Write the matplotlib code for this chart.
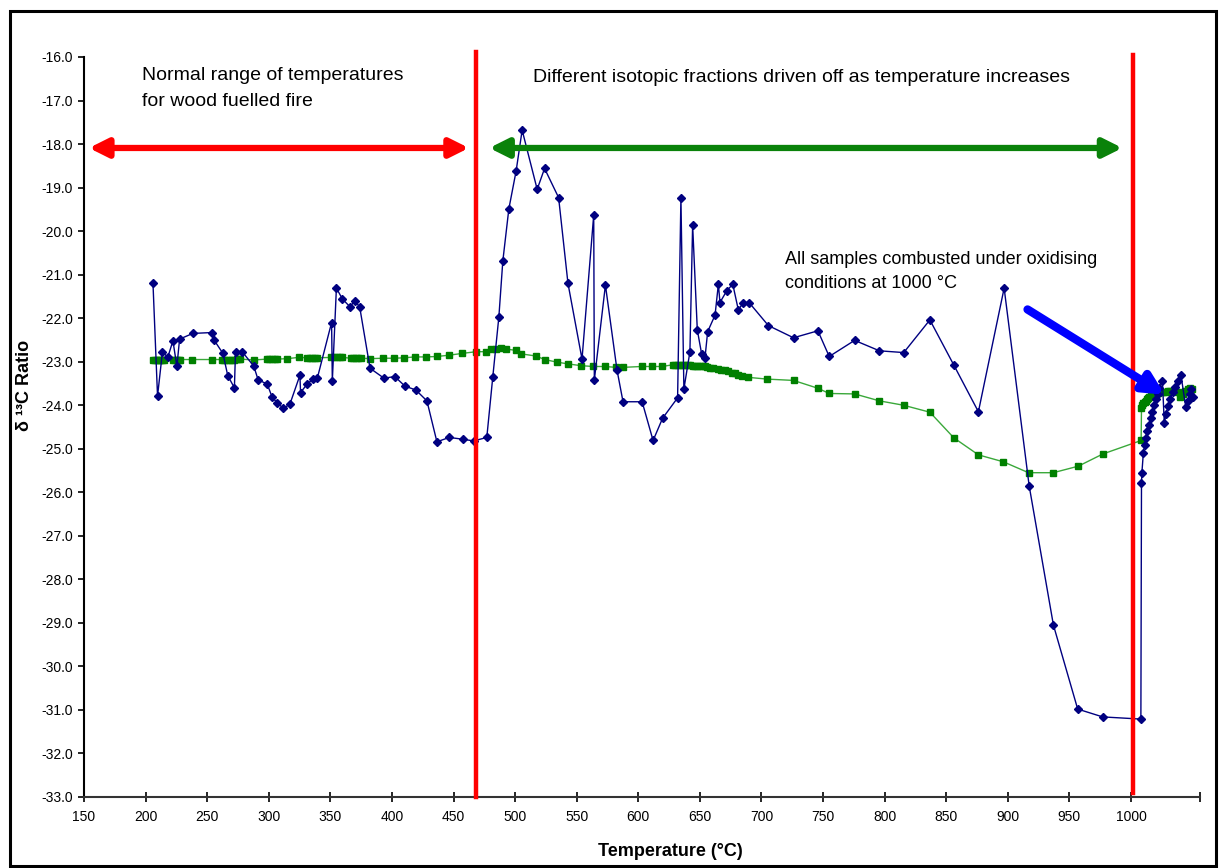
import matplotlib
matplotlib.use("Agg")
import matplotlib.pyplot as plt
from matplotlib.patches import Rectangle, FancyArrowPatch

plt.rcParams['font.family'] = ['Liberation Sans', 'DejaVu Sans']

# ---- data ----
blue_T = [206, 209.7, 213.7, 218, 222.2, 225.4, 227.6, 238.4, 253.9, 255.3, 262.8, 266.7,
          272.1, 273, 278.4, 287.8, 291.4, 298.7, 302.8, 306.8, 311.7, 317.1, 325.3, 325.8,
          331.2, 336, 339.4, 351, 351.6, 354.9, 359.8, 366, 369.8, 373.8, 382.2, 393.6,
          402.3, 410.5, 419.4, 428.4, 436.5, 446.5, 457.3, 466.3, 477, 481.9, 486.8, 490,
          494.9, 500.8, 505.7, 517.9, 523.9, 535.3, 542.9, 554.3, 563.8, 564.3, 573.3,
          582.7, 587.6, 603.1, 612, 619.7, 631.9, 634.6, 637, 641.9, 644.1, 647.9, 651.4,
          654.1, 656.3, 662.3, 665, 666.3, 671.8, 676.7, 681.2, 685.3, 689.9, 705.6, 726,
          745.8, 755, 775.6, 795.8, 815.5, 836.7, 856.2, 876.1, 897, 917.3, 937, 956.7,
          977, 1008,
          1008.5, 1008.8, 1010, 1011, 1012, 1013, 1014.5, 1016, 1017, 1018.5, 1020, 1021.5,
          1023, 1025.5,
          1027, 1028.5, 1030, 1032, 1034, 1036, 1038, 1040.5,
          1044.5, 1046, 1047.5, 1049, 1050]
blue_V = [-21.20, -23.79, -22.77, -22.90, -22.52, -23.11, -22.48, -22.35, -22.33, -22.49, -22.81, -23.32,
          -23.60, -22.77, -22.77, -23.10, -23.42, -23.51, -23.82, -23.94, -24.07, -23.98, -23.31, -23.71,
          -23.51, -23.40, -23.38, -22.10, -23.44, -21.31, -21.56, -21.74, -21.60, -21.74, -23.15, -23.38,
          -23.34, -23.56, -23.65, -23.90, -24.84, -24.74, -24.78, -24.82, -24.74, -23.34, -21.97, -20.69,
          -19.49, -18.62, -17.68, -19.04, -18.56, -19.23, -21.20, -22.94, -19.63, -23.42, -21.24,
          -23.19, -23.92, -23.92, -24.81, -24.30, -23.83, -19.23, -23.63, -22.77, -19.86, -22.27, -22.82,
          -22.92, -22.31, -21.93, -21.22, -21.64, -21.37, -21.22, -21.81, -21.64, -21.64, -22.17, -22.45,
          -22.29, -22.88, -22.51, -22.75, -22.79, -22.04, -23.08, -24.15, -21.31, -25.85, -29.05, -30.98,
          -31.16, -31.21,
          -25.79, -25.56, -25.10, -24.92, -24.75, -24.60, -24.45, -24.30, -24.15, -24.00, -23.85, -23.75,
          -23.60, -23.45,
          -24.40, -24.20, -24.02, -23.85, -23.70, -23.58, -23.45, -23.30,
          -24.05, -23.90, -23.75, -23.62, -23.80]

green_T = [206, 207.5, 209, 210.5, 212, 213.5, 215, 222.2, 224, 225.4, 227, 228.1, 237.6, 253.9,
           262, 264, 266, 268, 270.2, 272, 274.3, 276, 277, 287.8, 298.7, 300.5, 302.8, 304.8,
           306.8, 315, 324.5, 331.2, 333.3, 335.3, 337.3, 339.4, 350.2, 352.7, 355.1, 357.5,
           359.8, 366.5, 368.5, 370.6, 372.7, 374.7, 382.2, 393.1, 401.8, 410, 418.6, 427.6,
           436.5, 446.5, 456.9, 468.3, 476.4, 480.5, 484.5, 488.6, 492.7, 500.8, 504.9, 517.1,
           523.9, 534, 542.9, 553.2, 563.3, 572.7, 582.2, 587.6, 602.6, 611.5, 619.4, 628, 630,
           632, 634, 636, 638, 640, 642, 644, 646, 648, 650, 652, 654, 656, 658.2, 661, 665,
           667.5, 670.4, 673, 675.8, 678.5, 681.2, 684, 689.4, 704.8, 726, 745.8, 755, 775.6,
           795.8, 815.3, 836.7, 856.2, 876.1, 896.4, 916.8, 936.9, 957.2, 977.1, 1008.2,
           1008.5, 1009, 1010, 1011, 1012, 1013, 1014, 1015, 1016, 1017, 1018.5, 1020, 1022,
           1024, 1026, 1028, 1030, 1032, 1034, 1036, 1038, 1040, 1042, 1044, 1046, 1048, 1049.5]
green_V = [-22.95, -22.95, -22.95, -22.95, -22.95, -22.95, -22.95, -22.95, -22.95, -22.95, -22.95, -22.95, -22.95, -22.95,
           -22.95, -22.95, -22.95, -22.95, -22.95, -22.95, -22.94, -22.94, -22.94, -22.96, -22.94, -22.94, -22.94, -22.94,
           -22.94, -22.93, -22.90, -22.91, -22.91, -22.91, -22.91, -22.91, -22.90, -22.90, -22.90, -22.90,
           -22.90, -22.92, -22.92, -22.92, -22.92, -22.92, -22.93, -22.92, -22.92, -22.91, -22.89, -22.89,
           -22.88, -22.85, -22.81, -22.77, -22.77, -22.71, -22.70, -22.69, -22.71, -22.74, -22.82, -22.87,
           -22.95, -23.01, -23.05, -23.09, -23.11, -23.11, -23.13, -23.13, -23.11, -23.11, -23.11, -23.07, -23.07,
           -23.07, -23.07, -23.07, -23.08, -23.08, -23.08, -23.09, -23.09, -23.09, -23.10, -23.10, -23.11, -23.12, -23.14, -23.15, -23.17,
           -23.18, -23.20, -23.22, -23.25, -23.27, -23.30, -23.32, -23.36, -23.40, -23.43, -23.61, -23.73, -23.74,
           -23.90, -24.00, -24.16, -24.75, -25.14, -25.30, -25.55, -25.55, -25.40, -25.12, -24.81,
           -24.07, -24.00, -23.95, -23.92, -23.90, -23.86, -23.83, -23.80, -23.78, -23.76, -23.74, -23.73, -23.72,
           -23.70, -23.70, -23.69, -23.68, -23.68, -23.67, -23.66, -23.70, -23.80, -23.75, -23.68, -23.62, -23.60, -23.63]

x_ticks = list(range(150, 1001, 50))
y_ticks = list(range(-33, -15))
boundary_T = [468, 1002]

W, H = 1220, 868
fig = plt.figure(figsize=(W / 100, H / 100), dpi=100)
fig.patch.set_facecolor('white')

def fx(px):
    return px / W

def fy(py):
    return 1 - py / H

ax = fig.add_axes([fx(84), fy(797), fx(1200) - fx(84), fy(57) - fy(797)])
ax.set_xlim(150, 1056)
ax.set_ylim(-33, -16)

ax.plot(green_T, green_V, color='#3aa83a', lw=1.0, marker='s', ms=5,
        mfc='#008000', mec='#008000', zorder=3)
ax.plot(blue_T, blue_V, color='#000080', lw=1.0, marker='D', ms=4,
        mfc='#000080', mec='#000080', zorder=4)

# boundaries
ax.plot([boundary_T[0]] * 2, [-33, -15.88], color='#ff0000', lw=3.2, clip_on=False, zorder=5)
ax.plot([boundary_T[1]] * 2, [-32.9, -15.95], color='#ff0000', lw=3.2, clip_on=False, zorder=5)

# double arrows
ax.add_patch(FancyArrowPatch((154, -18.09), (462.5, -18.09), arrowstyle='<|-|>',
                             mutation_scale=28, lw=4.5, color='#ff0000', zorder=6,
                             shrinkA=0, shrinkB=0))
ax.add_patch(FancyArrowPatch((479, -18.09), (993, -18.09), arrowstyle='<|-|>',
                             mutation_scale=28, lw=4.5, color='#0a820a', zorder=6,
                             shrinkA=0, shrinkB=0))
ax.add_patch(FancyArrowPatch((916, -21.8), (1027.5, -23.76), arrowstyle='-|>',
                             mutation_scale=30, lw=6, color='#0000ff', zorder=7,
                             shrinkA=0, shrinkB=0))

# ticks
ax.set_xticks(x_ticks)
ax.set_xticklabels([str(t) for t in x_ticks])
ax.set_xticks([1056], minor=True)
ax.set_yticks(y_ticks)
ax.set_yticklabels([f"{v:.1f}" for v in y_ticks])
ax.tick_params(axis='x', which='both', direction='inout', length=7, width=1.2, labelsize=10, pad=6)
ax.tick_params(axis='y', direction='out', length=4, width=1.2, labelsize=10, pad=4)
for s in ['top', 'right']:
    ax.spines[s].set_visible(False)
ax.spines['left'].set_linewidth(1.5)
ax.spines['bottom'].set_linewidth(1.5)
ax.spines['bottom'].set_color('#333333')

# axis titles
fig.text(fx(670), fy(852), 'Temperature (°C)', ha='center', va='center',
         fontsize=13, fontweight='bold')
fig.text(fx(25), fy(385), 'δ ¹³C Ratio', ha='center', va='center', rotation=90,
         fontsize=13, fontweight='bold')

# annotations
fig.text(fx(142), fy(76), 'Normal range of temperatures', ha='left', va='center', fontsize=14)
fig.text(fx(142), fy(101), 'for wood fuelled fire', ha='left', va='center', fontsize=14)
fig.text(fx(533), fy(77), 'Different isotopic fractions driven off as temperature increases',
         ha='left', va='center', fontsize=14)
fig.text(fx(785), fy(260), 'All samples combusted under oxidising', ha='left', va='center', fontsize=13)
fig.text(fx(785), fy(284), 'conditions at 1000 °C', ha='left', va='center', fontsize=13)

# figure border
fig.patches.append(Rectangle((fx(10), fy(866)), fx(1216) - fx(10), fy(11) - fy(866),
                             transform=fig.transFigure, fill=False, lw=2.2, ec='black'))

fig.savefig('out.png', dpi=100, facecolor='white')
